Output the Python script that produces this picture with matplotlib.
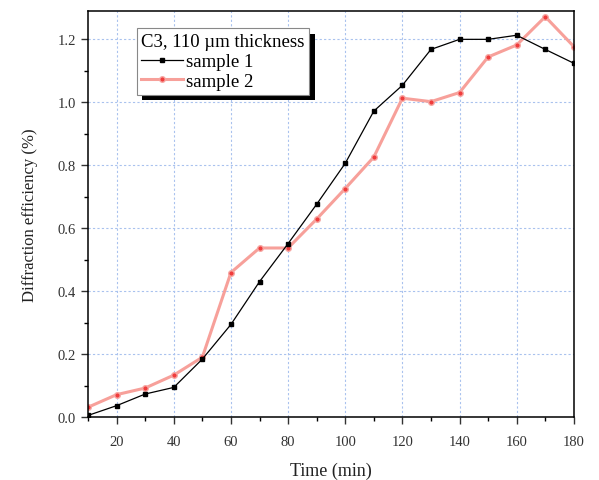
import matplotlib
matplotlib.use("Agg")
import matplotlib.pyplot as plt
import matplotlib.patheffects as pe
from matplotlib.ticker import MultipleLocator

# data
time_min = [10, 20, 30, 40, 50, 60, 70, 80, 90, 100, 110, 120, 130, 140, 150, 160, 170, 180]
sample1 = [0.005, 0.036, 0.073, 0.094, 0.184, 0.294, 0.430, 0.551, 0.676, 0.806, 0.972, 1.054,
           1.168, 1.200, 1.200, 1.213, 1.168, 1.124]
sample2 = [0.031, 0.071, 0.092, 0.133, 0.190, 0.459, 0.537, 0.537, 0.629, 0.726, 0.826, 1.013,
           1.002, 1.031, 1.144, 1.182, 1.272, 1.177]
legend_title = "C3, 110 \u00b5m thickness"
labels = ["sample 1", "sample 2"]

plt.rcParams['font.family'] = ['Liberation Serif', 'DejaVu Serif']

fig = plt.figure(figsize=(5.99, 4.81), dpi=100)
ax = fig.add_axes([0.147, 0.131, 0.811, 0.844])

ax.plot(time_min, sample1, color='black', lw=0.9, marker='s', markersize=3.5,
        label=labels[0], zorder=3)
ax.plot(time_min, sample2, color='#f7a09a', lw=2.2, marker='o', markersize=4,
        markerfacecolor='#f03c3c', markeredgecolor='#f6a8a4', label=labels[1], zorder=2)

ax.set_xlim(10, 180)
ax.set_ylim(0, 1.29)
ax.xaxis.set_major_locator(MultipleLocator(20))
ax.xaxis.set_minor_locator(MultipleLocator(10))
ax.yaxis.set_major_locator(MultipleLocator(0.2))
ax.yaxis.set_minor_locator(MultipleLocator(0.1))
ax.yaxis.set_major_formatter(matplotlib.ticker.FormatStrFormatter('%.1f'))
ax.tick_params(which='major', direction='out', length=5, width=1, labelsize=10.5, colors='#333333')
ax.tick_params(which='minor', direction='out', length=3, width=1)
ax.tick_params(axis='x', pad=8)
ax.grid(True, which='major', color='#a9c2ee', ls=(0, (2, 2)), lw=0.8)
for s in ax.spines.values():
    s.set_linewidth(1.1)

ax.set_xlabel("Time (min)", fontsize=13, color='#222222', labelpad=10)
ax.set_ylabel("Diffraction efficiency (%)", fontsize=12, color='#222222', labelpad=14)

leg = ax.legend(title=legend_title, loc='upper left', bbox_to_anchor=(0.1, 0.957),
                fontsize=13.5, title_fontsize=13.5, fancybox=False, framealpha=1,
                edgecolor='#888888', borderpad=0.25, handlelength=2.2, handletextpad=0.2,
                labelspacing=0.15, borderaxespad=0)
leg._legend_box.align = 'left'
leg.get_frame().set_linewidth(0.8)
leg.get_frame().set_path_effects([pe.SimplePatchShadow(offset=(4, -4), shadow_rgbFace='black', alpha=1),
                                  pe.Normal()])

fig.savefig("out.png", dpi=100)
